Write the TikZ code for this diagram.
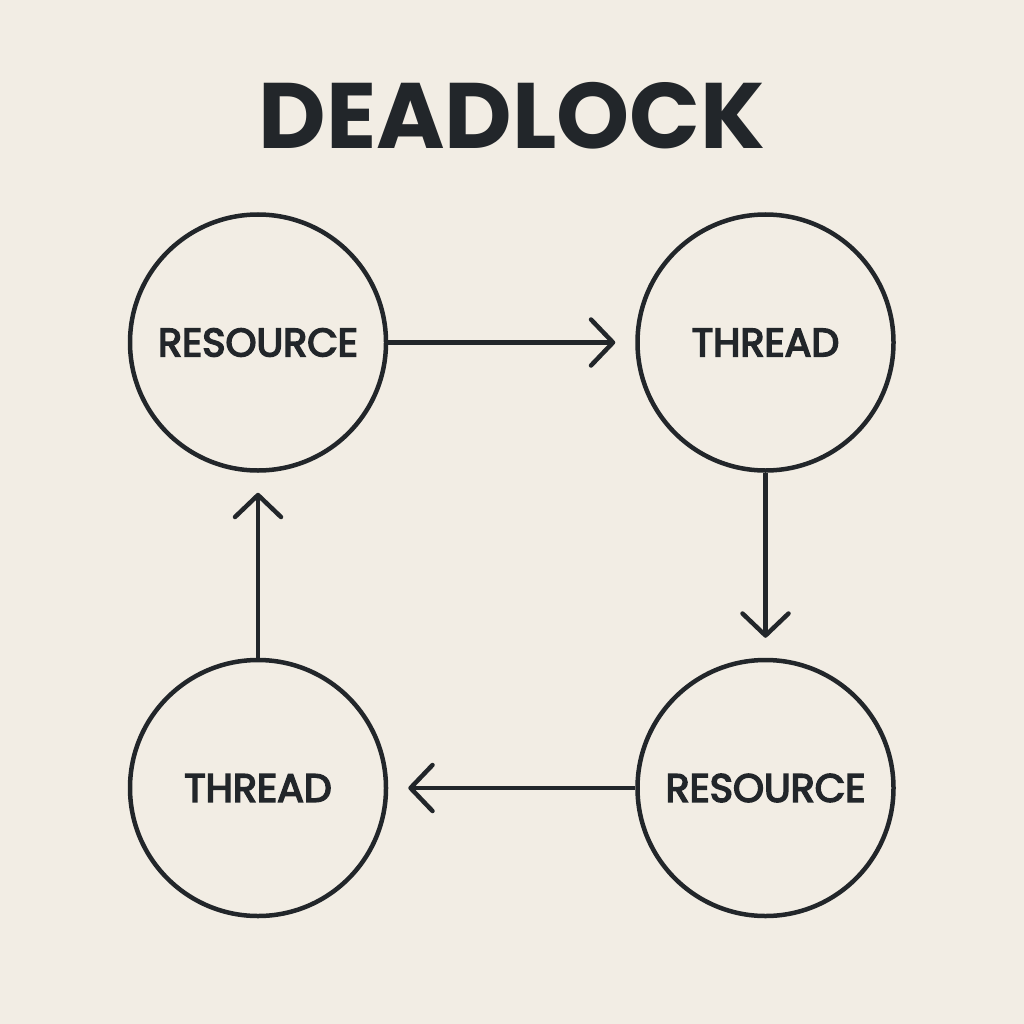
\documentclass[tikz,border=0pt]{standalone}
\usepackage{fontspec}
\setmainfont{Poppins}
\newfontfamily\labfont[FakeBold=4]{Poppins}
\usetikzlibrary{arrows.meta}
\definecolor{bg}{HTML}{F2EDE4}
\definecolor{ink}{HTML}{22262A}
\begin{document}
\begin{tikzpicture}[x=1pt,y=-1pt,
  circ/.style={circle,draw=ink,line width=4.5pt,minimum size=256pt,inner sep=0pt,text=ink,font=\labfont\fontsize{39.5}{44}\selectfont},
  arr/.style={draw=ink,line width=4.5pt,-{Straight Barb[length=22pt,width=46pt,line width=4.5pt,round]},shorten >=20pt}]
\fill[bg] (0,0) rectangle (1024,1024);
\useasboundingbox (0,0) rectangle (1024,1024);
\node[text=ink,font=\fontsize{93}{104}\selectfont\bfseries] (title) at (512,116) {DEADLOCK};
\node[circ] (r1) at (258,342.5) {RESOURCE};
\node[circ] (t1) at (765.5,342.5) {THREAD};
\node[circ] (r2) at (765.5,788) {RESOURCE};
\node[circ] (t2) at (258,788) {THREAD};
\draw[arr] (r1.east) -- (t1.west);
\draw[arr] (t1.south) -- (r2.north);
\draw[arr] (r2.west) -- (t2.east);
\draw[arr] (t2.north) -- (r1.south);
\end{tikzpicture}
\end{document}
